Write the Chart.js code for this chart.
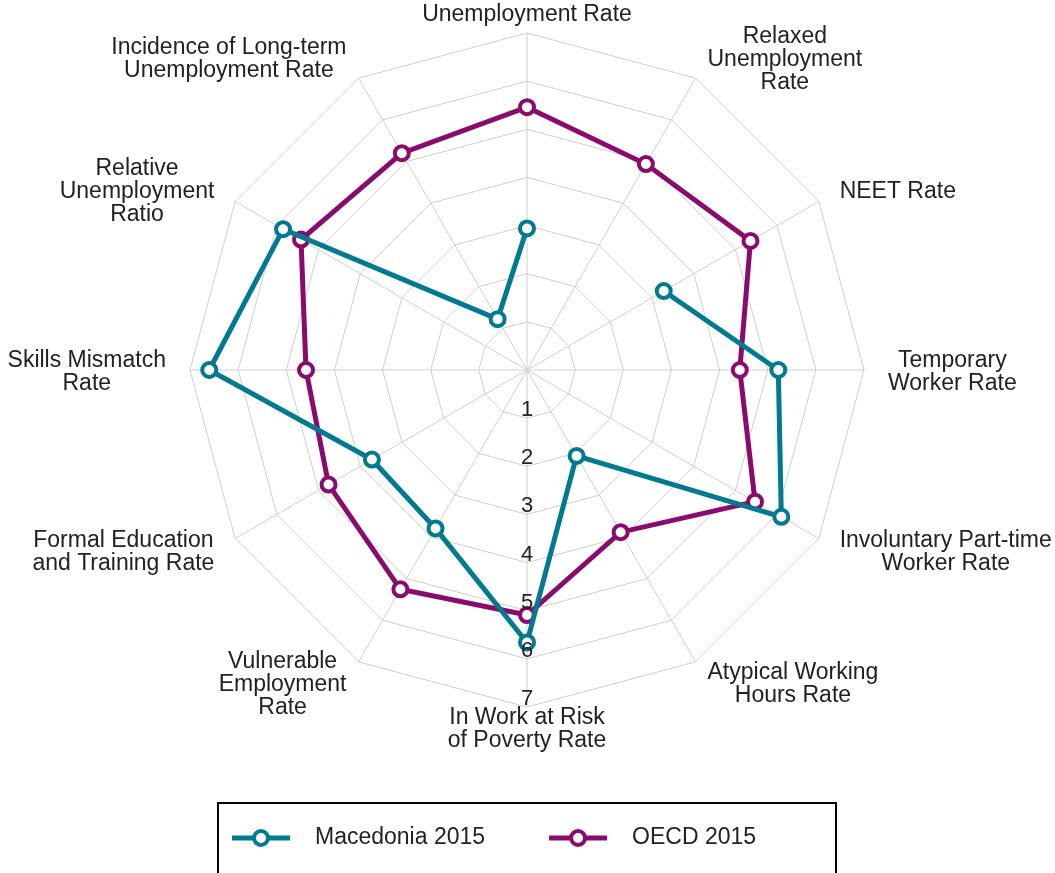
<!DOCTYPE html>
<html>
<head>
<meta charset="utf-8">
<script src="https://cdn.jsdelivr.net/npm/chart.js@4/dist/chart.umd.min.js"></script>
<style>
	html, body { margin: 0; padding: 0; background: #fff; }
	canvas { display: block; }
</style>
</head>
<body>
<canvas id="radarChart" width="1055" height="873"></canvas>
<script>
var categories = [
	[ "Unemployment Rate" ],
	[ "Relaxed", "Unemployment", "Rate" ],
	[ "NEET Rate" ],
	[ "Temporary", "Worker Rate" ],
	[ "Involuntary Part-time", "Worker Rate" ],
	[ "Atypical Working", "Hours Rate" ],
	[ "In Work at Risk", "of Poverty Rate" ],
	[ "Vulnerable", "Employment", "Rate" ],
	[ "Formal Education", "and Training Rate" ],
	[ "Skills Mismatch", "Rate" ],
	[ "Relative", "Unemployment", "Ratio" ],
	[ "Incidence of Long-term", "Unemployment Rate" ]
];

// Macedonia has no value for the relaxed unemployment rate
var macedonia2015 = [ 2.94, null, 3.28, 5.22, 6.1, 2.06, 5.66, 3.8, 3.72, 6.6, 5.85, 1.22 ];
var oecd2015 = [ 5.46, 4.94, 5.36, 4.42, 5.47, 3.89, 5.09, 5.26, 4.76, 4.59, 5.42, 5.2 ];

var tickValues = [ 1, 2, 3, 4, 5, 6, 7 ];
var seriesNames = [ "Macedonia 2015", "OECD 2015" ];

var fontFamily = '"Liberation Sans", Arial, sans-serif';

// tick numbers down the bottom spoke and the category labels round the web
var outerLabels = {
	id : 'outerLabels',
	afterDatasetsDraw : function(chart) {
		var scale = chart.scales.r;
		var ctx = chart.ctx;
		ctx.save();
		ctx.fillStyle = '#222';

		ctx.font = '22px ' + fontFamily;
		ctx.textAlign = 'center';
		ctx.textBaseline = 'alphabetic';
		tickValues.forEach(function(v) {
			var d = scale.getDistanceFromCenterForValue(v);
			ctx.fillText(String(v), scale.xCenter, scale.yCenter + d - 2);
		});

		var lineH = 23;
		ctx.font = '23px ' + fontFamily;
		ctx.textBaseline = 'middle';
		chart.data.labels.forEach(function(lines, i) {
			var angle = Math.round(scale.getIndexAngle(i) * 180 / Math.PI) % 360;
			var gap = (angle === 0 || angle === 180) ? 20 : 24;
			var pos = scale.getPointPosition(i, scale.drawingArea + gap);
			var w = 0;
			lines.forEach(function(l) {
				w = Math.max(w, ctx.measureText(l).width);
			});
			var cx = pos.x;
			if (angle > 0 && angle < 180) {
				cx = pos.x + w / 2;
			} else if (angle > 180) {
				cx = pos.x - w / 2;
			}
			var top = pos.y + 2 - lineH * lines.length / 2;
			lines.forEach(function(l, k) {
				ctx.fillText(l, cx, top + lineH * (k + 0.5));
			});
		});
		ctx.restore();
	}
};

// boxed legend under the chart
var boxLegend = {
	id : 'boxLegend',
	afterDraw : function(chart) {
		var ctx = chart.ctx;
		var left = 218, top = 803, right = 836;
		var rowY = 838;
		ctx.save();
		ctx.strokeStyle = '#000';
		ctx.lineWidth = 2;
		ctx.strokeRect(left, top, right - left, chart.height - top + 10);

		ctx.font = '23px ' + fontFamily;
		ctx.textAlign = 'left';
		ctx.textBaseline = 'middle';
		var x = left + 14;
		chart.data.datasets.forEach(function(ds) {
			ctx.strokeStyle = ds.borderColor;
			ctx.lineWidth = 5;
			ctx.beginPath();
			ctx.moveTo(x, rowY);
			ctx.lineTo(x + 58, rowY);
			ctx.stroke();
			ctx.beginPath();
			ctx.arc(x + 29, rowY, 7, 0, Math.PI * 2);
			ctx.fillStyle = '#fff';
			ctx.fill();
			ctx.lineWidth = 4;
			ctx.stroke();
			ctx.fillStyle = '#222';
			ctx.fillText(ds.label, x + 83, rowY);
			x = x + 83 + ctx.measureText(ds.label).width + 64;
		});
		ctx.restore();
	}
};

var chartdata = {
	labels : categories,
	datasets : [ {
		label : seriesNames[0],
		data : macedonia2015,
		borderColor : '#007a91',
		backgroundColor : 'rgba(0, 0, 0, 0)',
		pointBackgroundColor : '#fff',
		pointBorderColor : '#007a91',
		borderWidth : 5,
		pointRadius : 7,
		pointBorderWidth : 4,
		fill : false,
		spanGaps : false
	}, {
		label : seriesNames[1],
		data : oecd2015,
		borderColor : '#8b0a6e',
		backgroundColor : 'rgba(0, 0, 0, 0)',
		pointBackgroundColor : '#fff',
		pointBorderColor : '#8b0a6e',
		borderWidth : 5,
		pointRadius : 7,
		pointBorderWidth : 4,
		fill : false,
		spanGaps : false
	} ]
};

var radar = new Chart(document.getElementById('radarChart'), {
	type : 'radar',
	data : chartdata,
	options : {
		responsive : false,
		animation : false,
		devicePixelRatio : 1,
		layout : {
			padding : { top : 33, bottom : 166, left : 0, right : 0 }
		},
		elements : {
			line : { tension : 0 }
		},
		scales : {
			r : {
				min : 0,
				max : 7,
				ticks : { display : false, stepSize : 1 },
				grid : { color : '#cfcfcf', lineWidth : 1 },
				angleLines : { color : '#cfcfcf', lineWidth : 1 },
				pointLabels : { display : false }
			}
		},
		plugins : {
			legend : { display : false },
			tooltip : { enabled : false }
		}
	},
	plugins : [ outerLabels, boxLegend ]
});
</script>
</body>
</html>
